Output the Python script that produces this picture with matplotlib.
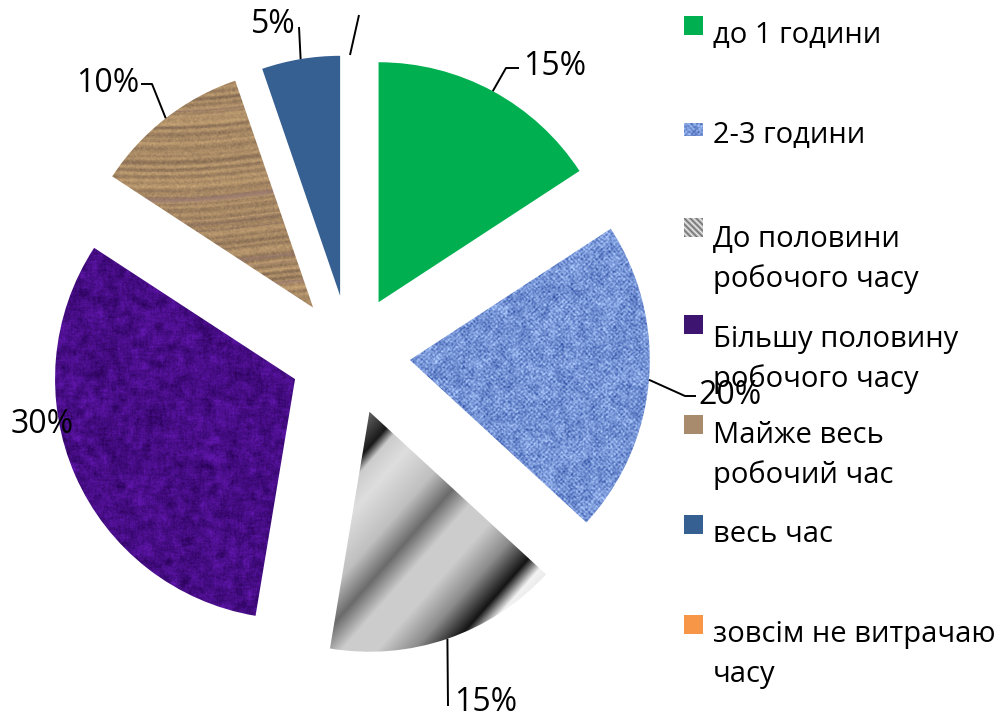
import numpy as np
import matplotlib.pyplot as plt
from matplotlib.patches import Rectangle

plt.rcParams['font.family'] = ['Open Sans', 'DejaVu Sans']

labels = ['до 1 години', '2-3 години', 'До половини\nробочого часу',
          'Більшу половину\nробочого часу', 'Майже весь\nробочий час',
          'весь час', 'зовсім не витрачаю\nчасу']
shares = [15, 20, 15, 30, 10, 5, 0]

W, H = 1004, 715
rng = np.random.default_rng(7)
yy, xx = np.mgrid[0:H, 0:W].astype(float)


def blur(a, k):
    kern = np.ones(k) / k
    a = np.apply_along_axis(lambda r: np.convolve(r, kern, mode='same'), 1, a)
    return np.apply_along_axis(lambda c: np.convolve(c, kern, mode='same'), 0, a)


def norm(a):
    return (a - a.mean()) / a.std()


def mix(c0, c1, t):
    c0, c1 = np.array(c0), np.array(c1)
    t = np.clip(t, 0, 1)[..., None]
    return c0 + (c1 - c0) * t


# canvas weave (2-3 години)
weave = np.sin(xx * 2 * np.pi / 5.0) * np.sin(yy * 2 * np.pi / 5.0)
t = (0.56 + 0.17 * weave + 0.12 * norm(blur(rng.random((H, W)), 2))
     + 0.07 * norm(blur(rng.random((H, W)), 9)))
tex_blue = mix((0.18, 0.31, 0.64), (0.68, 0.79, 0.99), t)

# felt (більшу половину)
t = 0.5 + 0.16 * norm(blur(rng.random((H, W)), 8)) + 0.08 * norm(blur(rng.random((H, W)), 2))
tex_purple = mix((0.17, 0.01, 0.36), (0.38, 0.09, 0.68), t)

# wood grain (майже весь)
rows = np.convolve(rng.random(900), np.ones(3) / 3, mode='same')
rows2 = np.convolve(rng.random(900), np.ones(5) / 5, mode='same')
yv = yy + 0.05 * xx + 3 * np.sin(xx / 41.0) + 40
grain = (0.6 + 0.55 * (np.interp(yv, np.arange(900), rows) - 0.5)
         + 0.12 * np.sin(yv * 2 * np.pi / 7.0)
         + 0.06 * norm(blur(rng.random((H, W)), 2)))
tex_wood = mix((0.44, 0.35, 0.28), (0.80, 0.66, 0.47), grain)
streak = np.clip((np.interp(yv, np.arange(900), rows2) - 0.62) * 4, 0, 0.55)
tex_wood = tex_wood * (1 - streak[..., None]) + np.array((0.52, 0.40, 0.42)) * streak[..., None]

# brushed metal (до половини)
s = (xx - 370) * 0.75 + (yy - 415) * 0.66
stops = [-40, 0, 20, 30, 50, 85, 110, 133, 160, 187, 213, 228, 260]
vals = [0.45, 0.35, 0.1, 0.8, 0.87, 0.75, 0.42, 0.8, 0.8, 0.55, 0.08, 0.95, 0.85]
g = np.interp(s, stops, vals)
tex_metal = np.dstack([g, g, g])

fills = ['#00B050', tex_blue, tex_metal, tex_purple, tex_wood, '#376092', '#F79646']

fig = plt.figure(figsize=(W / 100, H / 100), dpi=100)
ax = fig.add_axes([0, 0, 1, 1])

# explode is in data units here (pixels), radius 240
wedges, _ = ax.pie(shares, startangle=90, counterclock=False, explode=[60] * 7,
                   radius=240, center=(350, 360), wedgeprops=dict(linewidth=0))

for w, f in zip(wedges, fills):
    if isinstance(f, str):
        w.set_facecolor(f)
    else:
        w.set_facecolor('none')
        im = ax.imshow(f, extent=(0, W, 0, H), origin='upper',
                       interpolation='bilinear', zorder=w.get_zorder() + 0.1)
        im.set_clip_path(w)

# value labels with leader lines (positions in pixels from the top)
label_pos = [(523, 75, 'left'), (698, 404, 'left'), (454, 711, 'left'),
             (42, 433, 'center'), (139, 92, 'right'), (273, 33, 'center'), None]
leaders = [[(506, 68), (519, 68)], [(685, 396), (696, 396)], [(448, 706)], [],
           [(152, 84), (141, 84)], [(299, 27)], [(359, 15)]]

for w, v, pos, pts in zip(wedges, shares, label_pos, leaders):
    mid = np.radians((w.theta1 + w.theta2) / 2)
    cx, cy = w.center
    start = (cx + w.r * np.cos(mid), cy + w.r * np.sin(mid))
    if pts:
        xs = [start[0]] + [p[0] for p in pts]
        ys = [start[1]] + [H - p[1] for p in pts]
        ax.plot(xs, ys, color='black', lw=1.4, solid_capstyle='butt', zorder=5)
    if pos and v > 0:
        ax.text(pos[0], H - pos[1], f'{v}%', fontsize=23, ha=pos[2], va='baseline',
                color='black', zorder=6)

# legend
sq_top = [16, 123, 218, 315, 415, 515, 615]
base = [43, 143, 247, 347, 443, 542, 642]
metal_sq = np.interp(((np.arange(19)[:, None] * -1 + np.arange(19)[None, :]) % 6), [0, 3, 6], [0.45, 0.9, 0.45])
legend_fill = ['#00B050', tex_blue[123:136, 684:703], np.dstack([metal_sq] * 3),
               '#3D1470', '#A88A6C', '#376092', '#F79646']
for top, b, lab, f in zip(sq_top, base, labels, legend_fill):
    hgt = 13 if top == 123 else 19
    if isinstance(f, str):
        ax.add_patch(Rectangle((684, H - top - hgt), 19, hgt, color=f, lw=0))
    else:
        ax.imshow(f, extent=(684, 703, H - top - hgt, H - top), origin='upper',
                  interpolation='nearest', zorder=3)
    for k, line in enumerate(lab.split('\n')):
        ax.text(713, H - b - 40 * k, line, fontsize=21, ha='left', va='baseline',
                color='black')

ax.set_xlim(0, W)
ax.set_ylim(0, H)
ax.set_aspect('equal')
ax.axis('off')
fig.savefig('out.png', dpi=100)
